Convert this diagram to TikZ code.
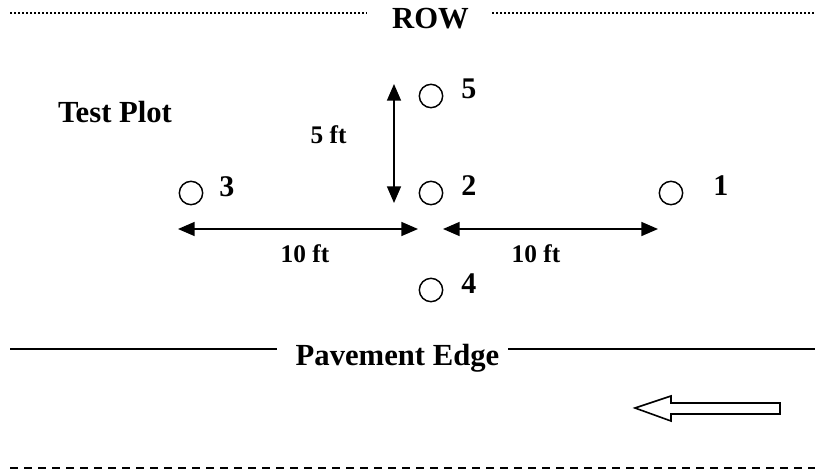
\documentclass[tikz,border=0pt]{standalone}
\usepackage{fontspec}
\setmainfont{Liberation Serif}
\usetikzlibrary{arrows.meta}
\begin{document}
\begin{tikzpicture}[x=0.75pt,y=-0.75pt,
  big/.style={font=\bfseries\fontsize{23}{27}\selectfont, inner sep=0pt, anchor=base},
  digit/.style={font=\bfseries\fontsize{22.5}{26}\selectfont, inner sep=0pt, anchor=base west},
  dim/.style={font=\bfseries\fontsize{19}{22}\selectfont, inner sep=0pt, anchor=base},
  plot/.style={circle, draw, line width=1.1pt, minimum size=17.5pt, inner sep=0pt},
  dimarrow/.style={line width=1.2pt, {Triangle[length=12.5pt,width=10.5pt]}-{Triangle[length=12.5pt,width=10.5pt]}},
  rowline/.style={line width=1.3pt, dash pattern=on 1.5pt off 1.5pt},
  paveline/.style={line width=1.3pt},
  laneline/.style={line width=1.5pt, dash pattern=on 6pt off 4.5pt}]
\useasboundingbox (0,0) rectangle (815,472);

% ROW line
\node[big] (row) at (430.5,28) {ROW};
\coordinate (rowL1) at (10,13);
\coordinate (rowL2) at (367,13);
\coordinate (rowR1) at (492,13);
\coordinate (rowR2) at (815,13);
\draw[rowline] (rowL1) -- (rowL2);
\draw[rowline] (rowR1) -- (rowR2);

% Test plot title
\node[big] (title) at (115,122) {Test Plot};

% plots
\node[plot] (p5) at (431,96) {};
\node[plot] (p2) at (431,193) {};
\node[plot] (p4) at (431,290) {};
\node[plot] (p3) at (191,193) {};
\node[plot] (p1) at (671,193) {};

\node[digit] (l5) at (461,98) {5};
\node[digit] (l2) at (461,195) {2};
\node[digit] (l4) at (461,293) {4};
\node[digit] (l3) at (219,196) {3};
\node[digit] (l1) at (713,195) {1};

% vertical dimension
\coordinate (vt) at (394,84);
\coordinate (vb) at (394,203);
\draw[dimarrow] (vt) -- (vb);
\node[dim] (d5) at (328.5,143) {5 ft};

% horizontal dimensions
\coordinate (h1a) at (178,229);
\coordinate (h1b) at (418,229);
\coordinate (h2a) at (443,229);
\coordinate (h2b) at (658,229);
\draw[dimarrow] (h1a) -- (h1b);
\draw[dimarrow] (h2a) -- (h2b);
\node[dim] (d10a) at (305,262) {10 ft};
\node[dim] (d10b) at (536,262) {10 ft};

% pavement edge
\node[big] (pave) at (397.5,365) {Pavement Edge};
\coordinate (pL1) at (10,349);
\coordinate (pL2) at (277,349);
\coordinate (pR1) at (508,349);
\coordinate (pR2) at (815,349);
\draw[paveline] (pL1) -- (pL2);
\draw[paveline] (pR1) -- (pR2);

% traffic direction block arrow
\draw[line width=1.2pt, line join=miter]
  (635,408) -- (671,396) -- (671,403) -- (780,403) -- (780,414) -- (671,414) -- (671,421) -- cycle;

% lane line
\coordinate (lane1) at (10,468);
\coordinate (lane2) at (815,468);
\draw[laneline] (lane1) -- (lane2);
\end{tikzpicture}
\end{document}
